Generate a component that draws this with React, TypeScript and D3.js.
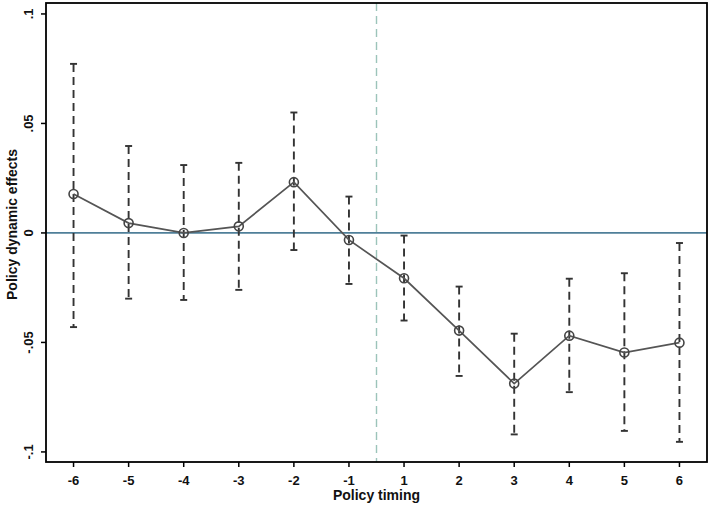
import React from 'react';
import * as d3 from 'd3';

// event-study estimates
const periods = ['-6', '-5', '-4', '-3', '-2', '-1', '1', '2', '3', '4', '5', '6'];
const estimates = [0.0178, 0.0045, 0.0, 0.003, 0.0232, -0.0032, -0.0207, -0.0446, -0.0688, -0.0469, -0.0546, -0.0501];
const upperCI = [0.0772, 0.0397, 0.031, 0.032, 0.055, 0.0166, -0.0012, -0.0245, -0.046, -0.0209, -0.0184, -0.0046];
const lowerCI = [-0.043, -0.030, -0.0306, -0.026, -0.0078, -0.0233, -0.040, -0.0653, -0.092, -0.0727, -0.0904, -0.0954];
const yTicks = [-0.1, -0.05, 0, 0.05, 0.1];
const yTickLabels = ['-.1', '-.05', '0', '.05', '.1'];

const W = 713;
const H = 508;
const margin = { top: 3, right: 6, bottom: 46, left: 46 };

const fmtFont = '"Liberation Sans", Arial, sans-serif';

const App: React.FC = () => {
  const x = d3.scalePoint<string>()
    .domain(periods)
    .range([margin.left, W - margin.right])
    .padding(0.5);

  const y = d3.scaleLinear()
    .domain([-0.1046, 0.105])
    .range([H - margin.bottom, margin.top]);

  const pts = periods.map((p, i) => ({ p, est: estimates[i], lo: lowerCI[i], hi: upperCI[i] }));

  const line = d3.line<typeof pts[number]>()
    .x(d => x(d.p) as number)
    .y(d => y(d.est));

  const left = margin.left;
  const right = W - margin.right;
  const top = margin.top;
  const bottom = H - margin.bottom;
  // reference line between -1 and 1
  const xBreak = ((x('-1') as number) + (x('1') as number)) / 2;

  return (
    <div style={{ position: 'absolute', left: 0, top: 0 }}>
      <svg width={W} height={H} style={{ display: 'block', background: '#fff' }}>
        {/* zero line */}
        <line x1={left} x2={right} y1={y(0)} y2={y(0)} stroke="#4f7f99" strokeWidth={1.7} />
        {/* policy start */}
        <line x1={xBreak} x2={xBreak} y1={top} y2={bottom} stroke="#9cc4ba" strokeWidth={1.4} strokeDasharray="8,5" />

        {/* confidence intervals */}
        {pts.map(d => {
          const cx = x(d.p) as number;
          return (
            <g key={'ci' + d.p} stroke="#333" strokeWidth={1.9}>
              <line x1={cx} x2={cx} y1={y(d.hi)} y2={y(d.lo)} strokeDasharray="8,5" />
              <line x1={cx - 3.5} x2={cx + 3.5} y1={y(d.hi)} y2={y(d.hi)} />
              <line x1={cx - 3.5} x2={cx + 3.5} y1={y(d.lo)} y2={y(d.lo)} />
            </g>
          );
        })}

        {/* point estimates */}
        <path d={line(pts) || ''} fill="none" stroke="#555" strokeWidth={1.7} />
        {pts.map(d => (
          <circle key={'pt' + d.p} cx={x(d.p) as number} cy={y(d.est)} r={4.5}
            fill="none" stroke="#444" strokeWidth={1.6} />
        ))}

        {/* frame */}
        <rect x={left} y={top} width={right - left} height={bottom - top} fill="none" stroke="#000" strokeWidth={1.8} />

        {/* y axis */}
        {yTicks.map((t, i) => (
          <g key={'yt' + t}>
            <line x1={left - 5} x2={left} y1={y(t)} y2={y(t)} stroke="#000" strokeWidth={1.5} />
            <text transform={`translate(${left - 13},${y(t)}) rotate(-90)`} textAnchor="middle"
              fontFamily={fmtFont} fontWeight="bold" fontSize={13} fill="#111">{yTickLabels[i]}</text>
          </g>
        ))}
        <text transform={`translate(17,${(top + bottom) / 2 - 8}) rotate(-90)`} textAnchor="middle"
          fontFamily={fmtFont} fontWeight="bold" fontSize={14} fill="#111">Policy dynamic effects</text>

        {/* x axis */}
        {periods.map(p => (
          <g key={'xt' + p}>
            <line x1={x(p) as number} x2={x(p) as number} y1={bottom} y2={bottom + 5} stroke="#000" strokeWidth={1.5} />
            <text x={x(p) as number} y={bottom + 23} textAnchor="middle"
              fontFamily={fmtFont} fontWeight="bold" fontSize={13} fill="#111">{p}</text>
          </g>
        ))}
        <text x={(left + right) / 2} y={H - 8} textAnchor="middle"
          fontFamily={fmtFont} fontWeight="bold" fontSize={14} fill="#111">Policy timing</text>
      </svg>
    </div>
  );
};

export default App;
